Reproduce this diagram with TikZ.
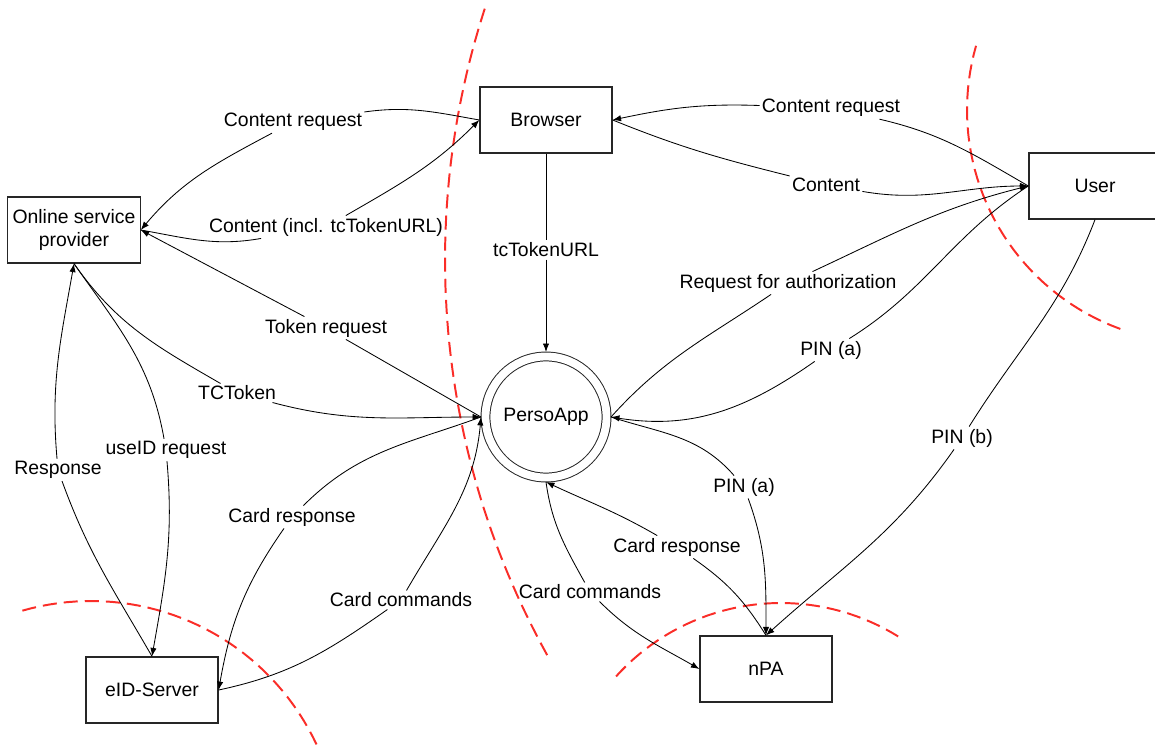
\documentclass[tikz,border=0pt]{standalone}
\usepackage{fontspec}
\setmainfont{Liberation Sans}
\usetikzlibrary{arrows.meta}
\definecolor{zonered}{RGB}{250,45,40}
\tikzset{
    box/.style={draw=black!85, line width=0.9pt, minimum width=3.3cm, minimum height=1.65cm, align=center},
    lbl/.style={inner sep=1.5pt},
    msg/.style={-{Latex[length=6pt,width=4.5pt]}, line width=0.6pt},
    zone/.style={color=zonered, line width=1.4pt, dash pattern=on 10pt off 5pt}
}
\begin{document}
\begin{tikzpicture}[x=0.025cm, y=-0.025cm, font=\fontsize{13.8}{16.4}\selectfont]
        \useasboundingbox (0,0) rectangle (1155,747);

        % trust boundaries
        \draw[zone] plot[domain=151:198, samples=60] ({1260+815*cos(\x)}, {260+815*sin(\x)});
        \draw[zone] plot[domain=110:196, samples=40] ({1200+233*cos(\x)}, {110+233*sin(\x)});
        \draw[zone] plot[domain=-106:-25, samples=40] ({91+249*cos(\x)}, {850+249*sin(\x)});
        \draw[zone] plot[domain=-138:-58, samples=40] ({781+222*cos(\x)}, {825+222*sin(\x)});

        \node[box] (osp) at (74,230) {Online service\\provider};
        \node[box] (brw) at (546,120) {Browser};
        \node[box] (usr) at (1095,186) {User};
        \node[box] (eid) at (152,690) {eID-Server};
        \node[box] (npa) at (766,669) {nPA};
        \node[circle, draw=black!85, double, double distance=5.6pt, line width=0.7pt,
              minimum size=3.025cm, outer sep=3.2pt] (pa) at (546,417) {PersoApp};

        \node[lbl] (creqL) at (293,122) {Content request};
        \node[lbl] (contL) at (326,227) {Content (incl. tcTokenURL)};
        \node[lbl] (tokreq) at (326,328) {Token request};
        \node[lbl] (tctok) at (237,393) {TCToken};
        \node[lbl] (resp) at (58,470) {Response};
        \node[lbl] (useid) at (166,450) {useID request};
        \node[lbl] (ccmdE) at (401,600) {Card commands};
        \node[lbl] (crespE) at (292,517) {Card response};
        \node[lbl] (tcurl) at (546,250) {tcTokenURL};
        \node[lbl] (creqR) at (831,108) {Content request};
        \node[lbl] (contR) at (826,185) {Content};
        \node[lbl] (reqauth) at (788,283) {Request for authorization};
        \node[lbl] (pinaU) at (831,350) {PIN (a)};
        \node[lbl] (pinaN) at (744,487) {PIN (a)};
        \node[lbl] (crespN) at (677,547) {Card response};
        \node[lbl] (ccmdN) at (590,592) {Card commands};
        \node[lbl] (pinb) at (962,438) {PIN (b)};

        \draw[msg] (brw.west) to[out=170,in=8] (creqL) to[out=208,in=50] (osp.east);
        \draw[msg] (osp.east) to[out=-10,in=190] (contL) to[out=30,in=225] (brw.west);
        \draw[msg] (pa.west) -- (tokreq) -- (osp.east);
        \draw[msg] (osp.south) to[out=-55,in=150] (tctok) to[out=-15,in=180] (pa.west);
        \draw[msg] (eid.north) to[out=120,in=290] (resp) to[out=95,in=260] (osp.south);
        \draw[msg] (osp.south) to[out=-55,in=100] (useid) to[out=-85,in=80] (eid.north);
        \draw[msg] (eid.east) to[out=12,in=215] (ccmdE) to[out=60,in=265] (pa.west);
        \draw[msg] (pa.west) to[out=200,in=45] (crespE) to[out=235,in=80] (eid.east);
        \draw[msg] (brw.south) -- (tcurl) -- (pa.north);
        \draw[msg] (usr.west) to[out=150,in=-13] (creqR) to[out=178,in=12] (brw.east);
        \draw[msg] (brw.east) to[out=-22,in=166] (contR) to[out=-10,in=180] (usr.west);
        \draw[msg] (pa.east) to[out=48,in=214] (reqauth) to[out=25,in=194] (usr.west);
        \draw[msg] (usr.west) to[out=213,in=32] (pinaU) to[out=215,in=-9] (pa.east);
        \draw[msg] (pa.east) to[out=-18,in=131] (pinaN) to[out=-70,in=90] (npa.north);
        \draw[msg] (npa.north) to[out=122,in=-35] (crespN) to[out=150,in=-25] (pa.south);
        \draw[msg] (pa.south) to[out=-82,in=119] (ccmdN) to[out=-45,in=150] (npa.west);
        \draw[msg] (usr.south) to[out=-111,in=58] (pinb) to[out=235,in=42] (npa.north);
\end{tikzpicture}
\end{document}
